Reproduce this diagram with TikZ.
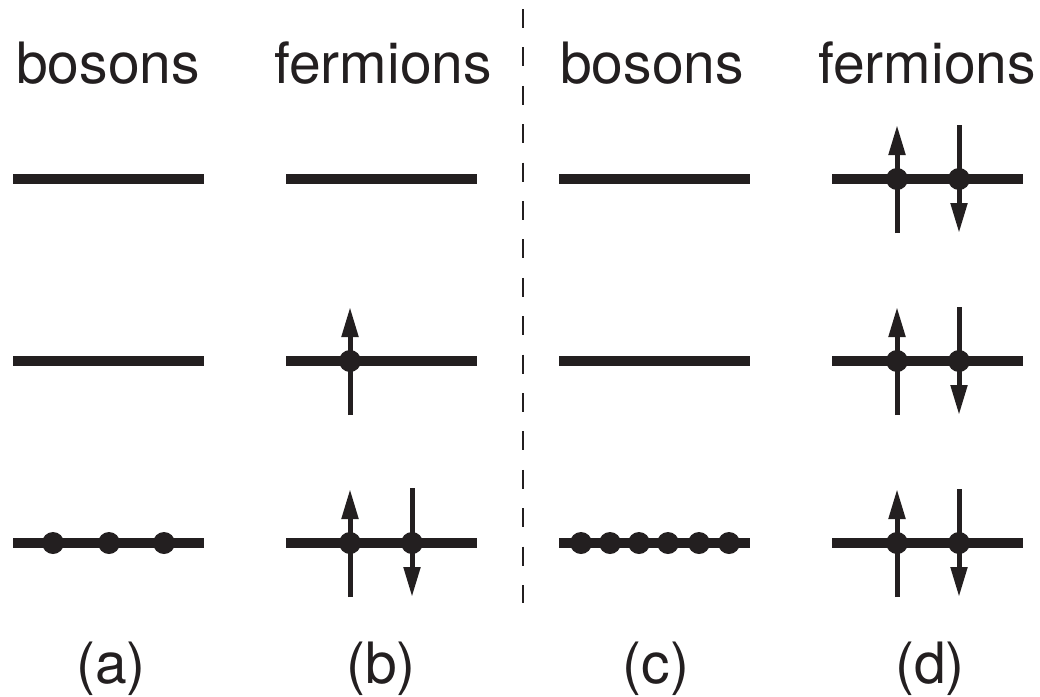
\documentclass[tikz,border=0pt]{standalone}
\usepackage{fontspec}
\setmainfont{TeX Gyre Heros}
\usepackage{tikz}
\usetikzlibrary{arrows.meta}
\definecolor{ink}{HTML}{231F20}

\tikzset{
  level/.style={line width=10pt, ink},
  spin/.style={line width=5pt, ink, -{Triangle[length=30pt,width=16pt]}},
  head/.style={anchor=base, inner sep=0pt, text=ink, font=\fontsize{57}{60}\selectfont}
}

\begin{document}
\begin{tikzpicture}[x=1pt, y=-1pt]
\useasboundingbox (0,0) rectangle (1040,696);
% headings
\node[head] (hbA) at (108,83) {bosons};
\node[head] (hfB) at (383,83) {fermions};
\node[head] (hbC) at (652,83) {bosons};
\node[head] (hfD) at (927,83) {fermions};
\draw[ink, line width=2pt, dash pattern=on 19pt off 19.4pt] (523,9) -- (523,603);
% (a) bosons
\draw[level] (13,179) -- (204,179);
\draw[level] (13,361) -- (204,361);
\draw[level] (13,543) -- (204,543);
\foreach \x in {53,109,164} \fill[ink] (\x,543) circle [radius=11];
% (b) fermions
\draw[level] (286,179) -- (477,179);
\draw[level] (286,361) -- (477,361);
\draw[spin] (350,415) -- (350,307);
\fill[ink] (350,361) circle [radius=11];
\draw[level] (286,543) -- (477,543);
\draw[spin] (350,597) -- (350,489);
\draw[spin] (412,488) -- (412,597);
\fill[ink] (350,543) circle [radius=11];
\fill[ink] (412,543) circle [radius=11];
% (c) bosons
\draw[level] (559,179) -- (750,179);
\draw[level] (559,361) -- (750,361);
\draw[level] (559,543) -- (750,543);
\foreach \x in {581,610,639,668,699,729} \fill[ink] (\x,543) circle [radius=11];
% (d) fermions
\foreach \y in {179,361,543} {
  \draw[level] (832,\y) -- (1023,\y);
  \draw[spin] (897,\y+54) -- (897,\y-54);
  \draw[spin] (959,\y-54) -- (959,\y+54);
  \fill[ink] (897,\y) circle [radius=11];
  \fill[ink] (959,\y) circle [radius=11];
}
% labels
\node[head] (labA) at (111,683) {(a)};
\node[head] (labB) at (381,683) {(b)};
\node[head] (labC) at (656,683) {(c)};
\node[head] (labD) at (930,683) {(d)};
\end{tikzpicture}
\end{document}
